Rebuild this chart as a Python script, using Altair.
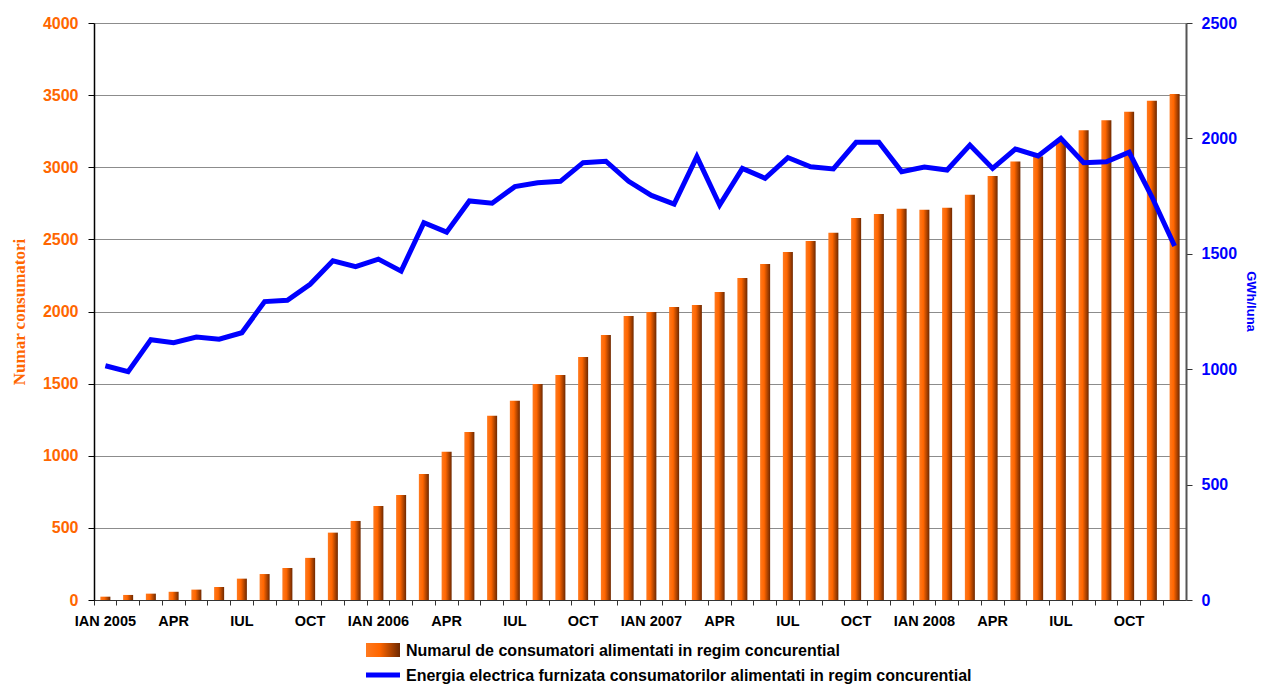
import altair as alt
import pandas as pd

month_labels = ["IAN 2005", "", "", "APR", "", "", "IUL", "", "", "OCT", "", "",
                "IAN 2006", "", "", "APR", "", "", "IUL", "", "", "OCT", "", "",
                "IAN 2007", "", "", "APR", "", "", "IUL", "", "", "OCT", "", "",
                "IAN 2008", "", "", "APR", "", "", "IUL", "", "", "OCT", "", ""]

consumatori = [23, 35, 44, 57, 72, 90, 148, 180, 222, 292, 467, 548,
               652, 728, 873, 1027, 1165, 1277, 1381, 1497, 1560, 1685, 1837, 1969,
               1997, 2031, 2045, 2135, 2232, 2329, 2412, 2489, 2546, 2648, 2676, 2713,
               2706, 2720, 2810, 2940, 3040, 3075, 3176, 3256, 3325, 3385, 3461, 3508]

energie = [1015, 989, 1128, 1115, 1139, 1130, 1158, 1293, 1299, 1368, 1470, 1444,
           1477, 1425, 1635, 1594, 1729, 1719, 1791, 1808, 1814, 1895, 1901, 1814,
           1753, 1715, 1921, 1711, 1870, 1827, 1917, 1877, 1868, 1983, 1983, 1856,
           1876, 1863, 1971, 1870, 1954, 1924, 2000, 1895, 1899, 1940, 1747, 1534]

legend_bar = "Numarul de consumatori alimentati in regim concurential"
legend_line = "Energia electrica furnizata consumatorilor alimentati in regim concurential"

df = pd.DataFrame({"i": list(range(len(consumatori))),
                   "consumatori": consumatori,
                   "energie": energie})

W, H = 1092, 577
FONT = "Liberation Sans"
ORANGE = "#FF6600"
BLUE = "#0000FF"

bar_grad = alt.LinearGradient(
    gradient="linear",
    stops=[alt.GradientStop(color="#FF7A1F", offset=0),
           alt.GradientStop(color="#FF6600", offset=0.4),
           alt.GradientStop(color="#6E2800", offset=1)],
    x1=0, x2=1, y1=0, y2=0)

label_expr = "[" + ",".join("'" + s + "'" for s in month_labels) + "][datum.value]"

x_enc = alt.X("i:O", title=None,
              scale=alt.Scale(paddingInner=0, paddingOuter=0),
              axis=alt.Axis(labelExpr=label_expr, labelAngle=0, bandPosition=0,
                            tickSize=5, tickColor="#333333",
                            domainColor="#333333", labelPadding=9,
                            labelFont=FONT, labelFontSize=14.5, labelFontWeight="bold",
                            labelColor="#000000", labelOverlap=False, labelFlush=False))

base = alt.Chart(df)

bars = base.mark_bar(width=alt.RelativeBandSize(0.44), color=bar_grad).encode(
    x=x_enc,
    y=alt.Y("consumatori:Q", scale=alt.Scale(domain=[0, 4000], nice=False),
            axis=alt.Axis(title="Numar consumatori", values=list(range(0, 4001, 500)),
                          format="d",
                          grid=True, gridColor="#8C8C8C", gridWidth=1,
                          tickSize=6, tickColor="#000000", domainColor="#000000",
                          domainWidth=1.5, labelPadding=10,
                          labelFont=FONT, labelFontSize=16, labelFontWeight="bold",
                          labelColor=ORANGE, titleFont="Liberation Serif",
                          titleFontSize=17, titleFontWeight="bold", titleColor=ORANGE,
                          titlePadding=14)))

line = base.mark_line(color=BLUE, strokeWidth=5).encode(
    x=x_enc,
    y=alt.Y("energie:Q", scale=alt.Scale(domain=[0, 2500], nice=False),
            axis=alt.Axis(orient="right", title="GWh/luna", values=list(range(0, 2501, 500)),
                          format="d",
                          grid=False, tickSize=6, tickColor="#333333",
                          domainColor="#555555", domainWidth=2, labelPadding=9,
                          labelFont=FONT, labelFontSize=16, labelFontWeight="bold",
                          labelColor=BLUE, titleFont=FONT, titleFontSize=13,
                          titleFontWeight="bold", titleColor=BLUE, titlePadding=7,
                          titleY=278)))

one = pd.DataFrame({"k": [0]})
leg_rect = alt.Chart(one).mark_rect(color=bar_grad).encode(
    x=alt.value(272), x2=alt.value(306), y=alt.value(620), y2=alt.value(634))
leg_rule = alt.Chart(one).mark_rule(color=BLUE, strokeWidth=5).encode(
    x=alt.value(272), x2=alt.value(306), y=alt.value(652))
leg_t1 = alt.Chart(one).mark_text(text=legend_bar, align="left", baseline="alphabetic",
                                  font=FONT, fontSize=16, fontWeight="bold",
                                  color="#000000").encode(x=alt.value(312), y=alt.value(633))
leg_t2 = alt.Chart(one).mark_text(text=legend_line, align="left", baseline="alphabetic",
                                  font=FONT, fontSize=16, fontWeight="bold",
                                  color="#000000").encode(x=alt.value(312), y=alt.value(658))

chart = alt.layer(bars, line, leg_rect, leg_rule, leg_t1, leg_t2).resolve_scale(
    y="independent").resolve_axis(y="independent").properties(
    width=W, height=H,
    autosize=alt.AutoSizeParams(type="none"),
    padding={"left": 86, "top": 15, "right": 75, "bottom": 85},
).configure_view(stroke=None).configure(background="white")

chart.save("out.html", embed_options={"renderer": "svg", "actions": False})
